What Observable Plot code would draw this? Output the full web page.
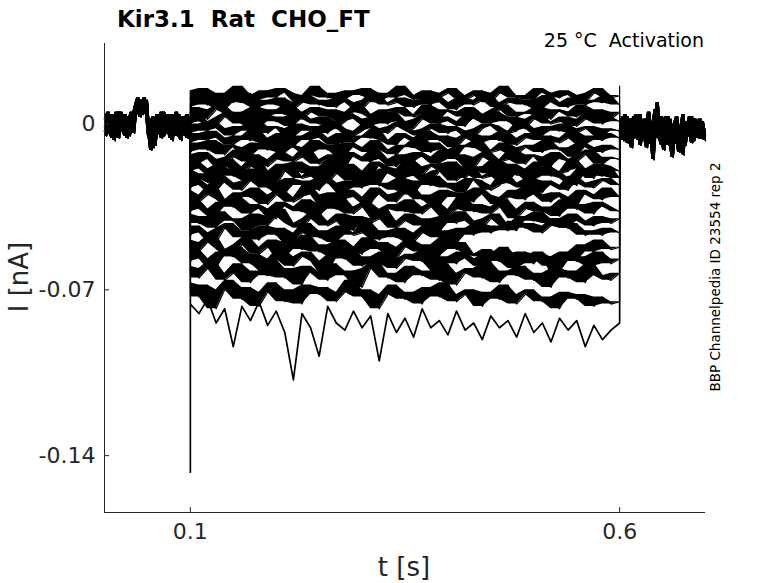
<!DOCTYPE html>
<html><head><meta charset="utf-8">
<script src="https://cdn.jsdelivr.net/npm/d3@7"></script>
<script src="https://cdn.jsdelivr.net/npm/@observablehq/plot@0.6"></script>
<style>
body{margin:0;background:#fff;}
#wrap{position:relative;width:778px;height:583px;font-family:"DejaVu Sans",sans-serif;color:#262626;overflow:hidden;}
#chart{position:absolute;left:0;top:0;}
.lbl{position:absolute;white-space:pre;line-height:1;}
</style></head><body>
<div id="wrap">
<div id="chart"></div>
<div class="lbl" style="left:117px;top:7.5px;font-size:23px;font-weight:bold;color:#000">Kir3.1  Rat  CHO_FT</div>
<div class="lbl" style="right:74px;top:31px;font-size:19px;color:#000">25 °C  Activation</div>
<div class="lbl" style="left:716px;top:277px;font-size:13.5px;color:#000;transform:translate(-50%,-50%) rotate(-90deg)">BBP Channelpedia ID 23554 rep 2</div>
<div class="lbl" style="left:19px;top:277px;font-size:26px;transform:translate(-50%,-50%) rotate(-90deg)">I [nA]</div>
<div class="lbl" style="left:404px;top:554px;font-size:26px;transform:translateX(-50%)">t [s]</div>
</div>
<script>
// ---- data (currents in pA, time in s) ----
const tStart = 0, tOn = 0.1, tOff = 0.6, tEnd = 0.7;
const xTicks = [0.1, 0.6];
const xTickLabels = ["0.1", "0.6"];
const yTicks = [0, -0.07, -0.14];
const yTickLabels = ["0", "-0.07", "-0.14"];
const PA_TO_NA = 0.001;

// holding-level baseline before the step (0 - 0.1 s), four overlapping sweeps
const preA = [2,-3,4,-1,-5,3,0,-4,5,-2,1,-6,3,-1,4,8,11,6,10,7,9,-2,-7,3,-9,1,-4,5,-3,-1,4,-6,2,-2,5,-4,0,3,-5,1,-2];
const preB = [-1,4,-4,2,-6,1,5,-2,-3,3,-5,2,-1,5,-4,6,9,3,8,5,10,-5,2,-10,0,-3,4,-6,2,-4,3,-1,-5,4,-2,1,-7,2,-3,4,-1];
const preC = [3,-5,1,-2,4,-7,2,5,-3,0,4,-4,1,-2,3,5,7,10,4,9,6,-3,-11,1,-5,3,-2,-6,5,-1,2,-4,4,-3,-5,2,0,-4,3,-6,2];
const preD = [-3,1,5,-4,0,-2,3,-6,2,4,-1,3,-5,0,2,7,10,5,8,11,4,1,-6,-2,-8,4,-1,2,-5,3,-3,1,-7,2,-1,4,-4,-2,3,-3,0];

// baseline after the step (0.6 - 0.7 s)
const postA = [2,-4,0,-7,3,-2,-9,1,-5,-1,4,-6,-3,2,-8,-2,1,-5,9,-4,-1,-11,3,-6,0,-3,-8,2,-4,-1,-13,1,-5,-2,3,-7,-1,-4,2,-6,-3];
const postB = [-5,1,-3,4,-8,-2,2,-6,-1,3,-9,-4,0,-7,5,-3,-10,1,-2,-6,3,-5,-1,-8,2,-14,-3,1,-6,-2,4,-9,-1,-5,0,-7,2,-3,-6,1,-4];
const postC = [0,-6,3,-2,-5,2,-8,-1,4,-7,-3,1,-5,-10,2,-4,-1,6,-6,-2,-9,0,-4,3,-7,-1,-5,2,-12,-3,1,-6,-2,3,-8,-4,0,-5,2,-3,-7];
const postD = [-3,2,-7,-1,1,-4,-10,3,-2,-6,0,-5,2,-8,-3,1,-15,-2,4,-6,-1,-4,2,-9,-3,0,-6,3,-5,-2,-11,1,-4,-1,-7,2,-3,-6,0,-2,-5];

// current at step onset (t = 0.1 s) and at step end (t = 0.6 s), per sweep
const onset  = [12,9,5,2,-2,-6,-10,-14,-18,-21,-25,-30,-35,-40,-45,-51,-56,-62,-70,-147];
const offset = [16,8,5,3,2,1,0,-1,-2,0,1,-1,-3,0,-2,-4,-1,-3,-5,-2];

// currents during the voltage step (0.1 - 0.6 s), one array per sweep
const s01 = [14,10,15,11,13,9,16,12,10,14,11,15,13,9,12,16,11,13,10,14,12,15,9,13,11,16,12,10,14,11,13,15,10,12,14,9,13,16,11,12,10,15,13,11,14,12,9,13,15,11,12];
const s02 = [7,11,8,12,6,10,9,13,7,10,8,11,6,9,12,8,10,7,11,9,6,10,13,8,9,11,7,10,8,12,9,6,11,8,10,13,7,9,11,8,10,6,12,9,7,11,8,10,9,12,8];
const s03 = [3,7,2,6,8,4,5,1,7,3,6,4,8,2,5,7,3,6,1,5,8,4,2,6,5,7,3,4,8,2,6,5,3,7,4,1,6,8,3,5,4,7,2,6,5,3,8,4,6,2,5];
const s04 = [0,4,1,-1,3,5,0,2,-2,4,1,3,-1,5,2,0,3,-2,1,4,2,-1,3,0,5,1,-2,2,4,0,3,1,-1,4,2,0,5,1,3,-2,2,4,0,1,3,-1,2,5,0,3,1];
const s05 = [-4,0,-3,1,-2,-5,-1,-3,2,-4,-1,-2,-6,0,-3,-1,-4,1,-2,-5,-3,0,-2,-4,-1,1,-3,-5,-2,0,-4,-1,-3,-6,-2,0,-1,-4,-3,1,-2,-5,-1,-3,0,-4,-2,-1,-5,-2,-3];
const s06 = [-8,-4,-7,-3,-6,-9,-5,-7,-2,-8,-6,-4,-10,-5,-7,-3,-6,-9,-4,-8,-5,-6,-2,-7,-9,-4,-6,-8,-3,-7,-5,-10,-6,-4,-8,-5,-7,-3,-9,-6,-4,-7,-5,-8,-6,-3,-9,-5,-7,-4,-6];
const s07 = [-12,-8,-11,-7,-13,-9,-10,-14,-8,-11,-6,-12,-9,-10,-13,-7,-11,-9,-14,-8,-10,-12,-7,-11,-13,-9,-10,-6,-12,-8,-11,-14,-9,-10,-7,-12,-11,-8,-13,-10,-9,-12,-7,-11,-10,-14,-8,-10,-12,-9,-11];
const s08 = [-13,-17,-12,-15,-19,-14,-11,-16,-13,-18,-15,-12,-16,-14,-10,-17,-15,-13,-19,-12,-14,-16,-11,-15,-18,-13,-16,-12,-14,-17,-11,-15,-13,-19,-14,-12,-16,-15,-11,-17,-13,-14,-18,-12,-15,-16,-13,-11,-17,-14,-15];
const s09 = [-20,-16,-19,-22,-17,-15,-21,-18,-14,-20,-23,-17,-19,-16,-21,-18,-22,-15,-19,-17,-20,-24,-16,-18,-21,-19,-15,-22,-18,-17,-20,-16,-23,-19,-18,-21,-15,-20,-17,-22,-19,-16,-18,-21,-20,-15,-19,-23,-17,-18,-20];
const s10 = [-19,-23,-21,-25,-18,-22,-20,-24,-19,-21,-26,-20,-17,-23,-22,-19,-25,-21,-18,-24,-20,-22,-26,-19,-21,-23,-18,-22,-25,-20,-19,-24,-21,-17,-23,-22,-20,-25,-19,-21,-24,-18,-22,-20,-23,-26,-19,-21,-22,-18,-23];
const s11 = [-27,-23,-26,-29,-22,-25,-28,-24,-21,-27,-25,-30,-23,-26,-24,-28,-22,-25,-29,-24,-27,-21,-26,-25,-28,-23,-30,-24,-26,-22,-27,-25,-29,-23,-24,-28,-26,-21,-25,-27,-23,-29,-24,-26,-28,-22,-25,-27,-24,-23,-26];
const s12 = [-28,-33,-30,-26,-32,-35,-29,-31,-27,-34,-30,-28,-33,-31,-26,-30,-35,-29,-32,-28,-31,-34,-27,-30,-33,-29,-26,-32,-30,-35,-28,-31,-29,-33,-27,-30,-34,-31,-28,-32,-26,-30,-33,-29,-31,-35,-28,-30,-32,-27,-31];
const s13 = [-37,-32,-36,-39,-33,-35,-31,-38,-34,-36,-40,-33,-35,-37,-32,-39,-34,-36,-31,-38,-35,-33,-40,-36,-34,-37,-32,-38,-35,-33,-39,-36,-31,-37,-34,-38,-35,-32,-40,-36,-33,-37,-35,-39,-32,-36,-34,-38,-33,-35,-37];
const s14 = [-38,-42,-39,-44,-37,-41,-40,-45,-38,-43,-39,-36,-42,-44,-40,-37,-43,-41,-38,-45,-39,-42,-40,-36,-44,-41,-38,-43,-40,-46,-39,-42,-37,-41,-44,-40,-38,-43,-45,-39,-41,-37,-42,-40,-44,-38,-41,-43,-39,-42,-40];
const s15 = [-47,-43,-46,-50,-44,-42,-48,-45,-49,-43,-47,-44,-51,-46,-42,-48,-45,-50,-43,-47,-46,-41,-49,-45,-48,-44,-50,-46,-43,-48,-45,-51,-44,-47,-42,-46,-43,-45,-41,-44,-42,-46,-43,-40,-44,-42,-47,-45,-47,-44,-46];
const s16 = [-49,-54,-50,-47,-53,-56,-51,-48,-55,-52,-49,-57,-50,-53,-47,-54,-51,-56,-49,-52,-55,-48,-53,-50,-57,-52,-49,-54,-51,-56,-48,-53,-50,-55,-56,-53,-58,-55,-59,-54,-57,-55,-60,-56,-54,-58,-51,-54,-49,-53,-52];
const s17 = [-58,-53,-57,-61,-54,-56,-52,-59,-55,-62,-57,-53,-60,-56,-54,-58,-63,-55,-57,-52,-60,-56,-59,-54,-61,-57,-55,-58,-53,-62,-56,-59,-54,-57,-60,-55,-58,-52,-61,-56,-59,-54,-57,-63,-55,-58,-56,-60,-54,-59,-57];
const s18 = [-60,-65,-61,-58,-66,-63,-59,-67,-62,-64,-57,-65,-61,-68,-60,-63,-66,-59,-64,-62,-69,-61,-58,-65,-63,-67,-60,-64,-62,-66,-59,-68,-63,-61,-65,-58,-67,-62,-64,-60,-66,-63,-69,-61,-65,-62,-67,-59,-64,-66,-63];
const s19 = [-67,-73,-68,-78,-70,-66,-74,-69,-77,-71,-67,-75,-70,-76,-68,-72,-69,-75,-71,-66,-73,-70,-78,-72,-68,-74,-71,-76,-69,-73,-67,-75,-72,-70,-77,-71,-74,-68,-76,-72,-70,-75,-73,-78,-71,-74,-72,-77,-73,-76,-75];
const s20 = [-76,-80,-74,-84,-78,-94,-77,-83,-75,-85,-79,-88,-108,-80,-86,-98,-77,-84,-87,-79,-86,-81,-100,-80,-88,-82,-90,-78,-86,-83,-89,-79,-87,-84,-91,-81,-86,-83,-90,-80,-88,-84,-92,-82,-87,-83,-94,-85,-91,-87,-84];

const steps = [s01,s02,s03,s04,s05,s06,s07,s08,s09,s10,s11,s12,s13,s14,s15,s16,s17,s18,s19,s20];
const preGroups = [preA, preB, preC, preD];
const postGroups = [postA, postB, postC, postD];

// ---- assemble rows ----
const rows = [];
function addSeg(trace, seg, arr, t0, t1) {
  const n = arr.length;
  arr.forEach((v, k) => rows.push({trace, seg: trace + "-" + seg, t: t0 + (t1 - t0) * k / (n - 1), i: v * PA_TO_NA}));
}
steps.forEach((st, idx) => {
  const g = idx % 4;
  addSeg(idx, "pre", preGroups[g], tStart, tOn);
  rows.push({trace: idx, seg: idx + "-on", t: tOn, i: onset[idx] * PA_TO_NA});
  addSeg(idx, "step", st, tOn, tOff);
  rows.push({trace: idx, seg: idx + "-off", t: tOff, i: offset[idx] * PA_TO_NA});
  addSeg(idx, "post", postGroups[g], tOff, tEnd);
});
const lastSweep = steps.length - 1;
// sample-to-sample noise envelope (the deepest sweep is drawn as a plain line)
const bandRows = rows.filter(d => !d.seg.endsWith("-on") && !d.seg.endsWith("-off") && !(d.trace === lastSweep && d.seg.endsWith("-step")));

const xDomain = [tStart, tEnd];
const yDomain = [-0.164, 0.034];

const chart = Plot.plot({
  width: 778, height: 583,
  marginLeft: 104, marginRight: 73, marginTop: 43, marginBottom: 71,
  x: {domain: xDomain},
  y: {domain: yDomain},
  style: {fontFamily: '"DejaVu Sans", sans-serif', fontSize: "22px", color: "#262626", background: "transparent"},
  marks: [
    Plot.areaY(bandRows, Plot.map(
      {y1: Plot.window({k: 2, reduce: "min"}), y2: Plot.window({k: 2, reduce: "max"})},
      {x: "t", y1: "i", y2: "i", z: "seg", fill: "black"}
    )),
    Plot.line(rows, {x: "t", y: "i", z: "trace", stroke: "black", strokeWidth: d => d.trace === lastSweep ? 1.7 : 1.2}),
    Plot.ruleX([xDomain[0]], {stroke: "#262626", strokeWidth: 1}),
    Plot.ruleY([yDomain[0]], {stroke: "#262626", strokeWidth: 1}),
    Plot.axisX({ticks: xTicks, tickSize: -5, tickPadding: 16, tickFormat: d => xTickLabels[xTicks.indexOf(d)], label: null, fontSize: 22}),
    Plot.axisY({ticks: yTicks, tickSize: -5, tickPadding: 14, tickFormat: d => yTickLabels[yTicks.indexOf(d)], label: null, fontSize: 22})
  ]
});
document.getElementById("chart").appendChild(chart);
</script>
</body></html>
